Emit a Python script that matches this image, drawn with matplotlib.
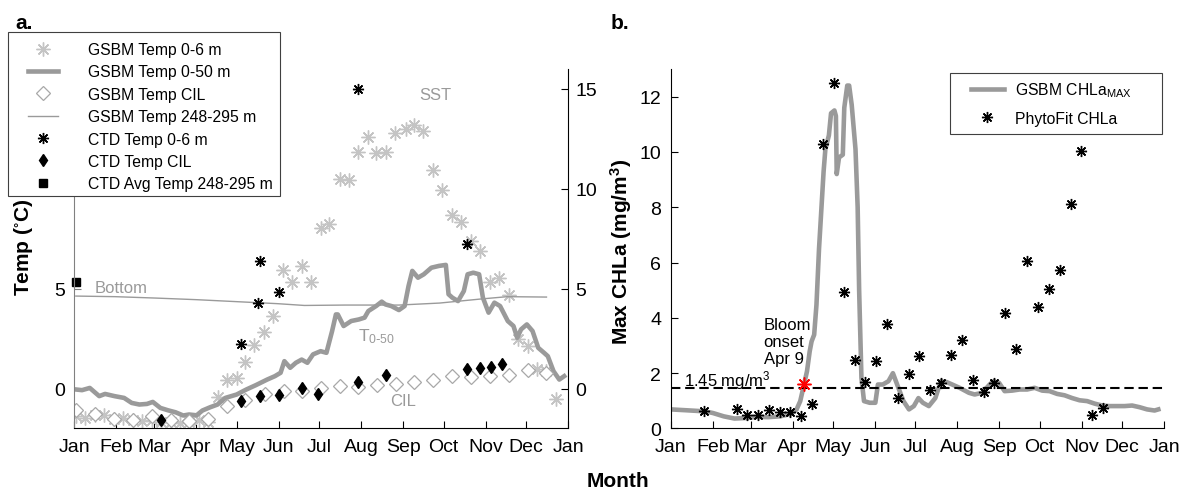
import matplotlib
matplotlib.use('Agg')
import matplotlib.pyplot as plt
from matplotlib.patches import Rectangle

plt.rcParams['font.family'] = ['Liberation Sans', 'DejaVu Sans']
plt.rcParams['mathtext.default'] = 'regular'

# month ticks (day of year)
month_days = [0, 31, 59, 90, 120, 151, 181, 212, 243, 273, 304, 334, 365]
month_labels = ['Jan', 'Feb', 'Mar', 'Apr', 'May', 'Jun', 'Jul', 'Aug',
                'Sep', 'Oct', 'Nov', 'Dec', 'Jan']

# ---- panel a: temperatures ----
sst_day = [1, 8, 15, 22, 29, 36, 43, 50, 57, 64, 71, 78, 85, 92, 99, 106, 113, 120,
           126, 133, 140, 147, 154, 161, 168, 175, 182, 188, 196, 203, 210, 217, 223,
           230, 237, 245, 251, 258, 265, 272, 279, 286, 293, 300, 307, 314, 321, 328,
           335, 342, 349, 356]
sst_temp = [-1.39, -1.47, -1.3, -1.34, -1.5, -1.47, -1.6, -1.64, -1.6, -1.67, -1.69,
            -1.72, -1.69, -1.6, -1.7, -0.43, 0.45, 0.54, 1.32, 2.16, 2.84, 3.63, 5.95,
            5.35, 6.14, 5.35, 8.06, 8.23, 10.5, 10.43, 11.86, 12.57, 11.78, 11.82, 12.77,
            12.99, 13.22, 12.9, 10.92, 9.93, 8.69, 8.35, 7.4, 6.88, 5.35, 5.55, 4.68,
            2.46, 2.12, 1.0, 0.9, -0.52]

t050_day = [1.4, 5.6, 11.3, 18.3, 22.6, 29.6, 36.7, 42.3, 48, 53.6, 57.9, 63.5, 69.2,
            74.8, 80.4, 84.7, 90.3, 94.6, 100.2, 105.8, 111.5, 119.9, 127, 134.1, 142.5,
            148.2, 152.4, 155.2, 159.5, 163.7, 168, 172.2, 176.4, 182, 186.3, 190.5,
            193.3, 194.7, 199, 204.6, 210.3, 214.5, 217.3, 223, 227.2, 230, 234.3, 239.9,
            244.1, 247, 249.8, 254, 258.3, 263.9, 269.5, 274.6, 276.6, 279.4, 283.6,
            287.9, 290.7, 294.9, 299.2, 302, 306.2, 310.5, 314.7, 320.4, 324.6, 327.4,
            330.2, 334.5, 338.7, 342.9, 347.2, 350, 354.2, 358.5, 362.1]
t050_temp = [-0.05, -0.08, 0.03, -0.38, -0.27, -0.38, -0.47, -0.72, -0.8, -0.77, -0.67,
             -0.97, -1.09, -1.19, -1.35, -1.3, -1.34, -1.1, -0.94, -0.8, -0.47, -0.3,
             -0.05, 0.17, 0.45, 0.62, 0.79, 1.37, 1.04, 1.29, 1.45, 1.29, 1.71, 1.87,
             1.79, 2.88, 3.71, 3.71, 3.13, 3.38, 3.46, 3.55, 3.88, 4.13, 4.35, 4.21, 4.13,
             3.93, 4.13, 5.13, 5.89, 5.55, 5.72, 6.05, 6.14, 6.19, 4.72, 4.55, 4.38, 4.88,
             5.72, 5.8, 5.72, 4.55, 3.8, 4.3, 4.13, 3.38, 3.13, 2.54, 2.96, 3.21, 2.88,
             2.04, 1.79, 1.62, 0.87, 0.45, 0.62]

cil_day = [1, 15, 29, 43, 57, 71, 85, 99, 113, 126, 141, 155, 168, 182, 196, 210, 224,
           238, 251, 265, 279, 293, 307, 321, 335, 349]
cil_temp = [-1.09, -1.25, -1.5, -1.59, -1.39, -1.59, -1.64, -1.5, -0.85, -0.55, -0.27,
            -0.13, -0.1, 0.03, 0.12, 0.07, 0.2, 0.23, 0.33, 0.45, 0.62, 0.58, 0.65, 0.7,
            0.92, 0.79]

bottom_day = [1, 30, 60, 90, 120, 150, 170, 200, 240, 270, 300, 320, 349]
bottom_temp = [4.63, 4.6, 4.53, 4.45, 4.35, 4.25, 4.16, 4.18, 4.18, 4.28, 4.48, 4.6, 4.58]

ctd_sst_day = [123, 137, 136, 151, 210, 290]
ctd_sst_temp = [2.24, 6.39, 4.3, 4.83, 15.0, 7.22]

ctd_cil_day = [64, 123, 137, 151, 168, 180, 210, 230, 290, 300, 308, 316]
ctd_cil_temp = [-1.6, -0.64, -0.38, -0.3, 0.03, -0.25, 0.33, 0.7, 1.0, 1.04, 1.09, 1.24]

ctd_bot_day = [1.4]
ctd_bot_temp = [5.33]

# ---- panel b: chlorophyll ----
chl_day = [0, 11, 25, 31, 39, 47, 56, 64, 72, 81, 89, 93, 95.7, 98.5, 100.7, 102.7,
           104.1, 106, 107.7, 109.6, 113.0, 114.3, 116.9, 118.5, 121.0, 122.1, 122.7,
           124.4, 127.2, 128.3, 130.5, 131.9, 133.8, 136.6, 138.2, 139.3, 141.0, 142.9,
           147.1, 151.3, 153.2, 156.8, 161.0, 164.3, 167.9, 172.1, 176.2, 179.8, 183.2,
           186.5, 190.9, 195.7, 199.8, 204.0, 208.2, 213.7, 220.6, 224.8, 230.4, 235.9,
           238.7, 242.9, 247.0, 252.6, 258.1, 263.7, 269.2, 274.8, 280.3, 285.9, 291.4,
           297.0, 302.5, 308.1, 313.6, 319.2, 324.7, 330.3, 335.8, 341.4, 346.9, 352.5,
           358.0, 360.8]
chl_val = [0.69, 0.66, 0.62, 0.56, 0.44, 0.36, 0.38, 0.42, 0.41, 0.44, 0.53, 0.69, 0.99,
           1.59, 2.07, 2.79, 3.15, 3.39, 4.47, 6.5, 9.3, 10.1, 10.6, 11.4, 11.5, 11.3, 9.2,
           9.8, 9.9, 11.6, 12.4, 12.4, 11.7, 10.1, 8.0, 5.0, 1.83, 0.99, 0.93, 0.93, 1.59,
           1.59, 1.71, 2.0, 1.53, 0.99, 0.69, 0.81, 1.1, 0.93, 0.81, 1.1, 1.71, 1.68, 1.59,
           1.47, 1.29, 1.23, 1.29, 1.59, 1.71, 1.65, 1.35, 1.37, 1.41, 1.41, 1.47, 1.37,
           1.35, 1.25, 1.2, 1.1, 1.02, 0.99, 0.9, 0.83, 0.81, 0.81, 0.81, 0.83, 0.77, 0.69,
           0.65, 0.69]

phyto_day = [24.4, 48.6, 56.3, 64.4, 72.2, 80.5, 88.3, 96.3, 104.1, 112.4, 120.5, 128.2,
             136.0, 144.0, 152.1, 160.1, 167.9, 176.2, 183.7, 191.5, 199.8, 207.6, 215.7,
             223.7, 231.7, 239.5, 247.6, 255.3, 263.7, 271.4, 279.5, 287.8, 296.1, 303.6,
             311.7, 319.5]
phyto_chl = [0.62, 0.69, 0.47, 0.5, 0.66, 0.6, 0.6, 0.44, 0.87, 10.29, 12.5, 4.93, 2.49,
             1.68, 2.45, 3.77, 1.11, 1.97, 2.63, 1.38, 1.65, 2.64, 3.19, 1.74, 1.32, 1.65,
             4.18, 2.87, 6.06, 4.39, 5.05, 5.73, 8.1, 10.05, 0.5, 0.75]

threshold = 1.45
onset_day = [98.5]
onset_chl = [1.61]

light = '#c4c4c4'
mid = '#9a9a9a'
ast = (8, 2, 0)   # asterisk marker, like matlab '*'

fig = plt.figure(figsize=(11.88, 4.89), dpi=100)
ax1 = fig.add_axes([0.0627, 0.1217, 0.4155, 0.7352])
ax1r = ax1.twinx()
ax2 = fig.add_axes([0.5648, 0.1217, 0.415, 0.7352])

# panel a
h1, = ax1.plot(sst_day, sst_temp, ls='none', marker=ast, ms=10, mec=light, mew=1.0)
h2, = ax1.plot(t050_day, t050_temp, color=mid, lw=3.3, solid_joinstyle='round')
h3, = ax1.plot(cil_day, cil_temp, ls='none', marker='D', ms=7.5, mfc='white', mec='#a8a8a8', mew=0.9)
h4, = ax1.plot(bottom_day, bottom_temp, color=mid, lw=1)
h5, = ax1.plot(ctd_sst_day, ctd_sst_temp, ls='none', marker=ast, ms=8, mec='black', mew=1.0)
h6, = ax1.plot(ctd_cil_day, ctd_cil_temp, ls='none', marker='d', ms=6.5, color='black')
h7, = ax1.plot(ctd_bot_day, ctd_bot_temp, ls='none', marker='s', ms=6, color='black', clip_on=False)

ax1.text(267, 14.7, 'SST', color=mid, fontsize=12, ha='center', va='center')
ax1.text(15, 5.05, 'Bottom', color=mid, fontsize=12, ha='left', va='center')
ax1.text(210, 2.65, r'T$_{0\text{-}50}$', color=mid, fontsize=12.5, ha='left', va='center')
ax1.text(243, -0.6, 'CIL', color=mid, fontsize=12, ha='center', va='center')

for a in (ax1, ax1r):
    a.set_xlim(0, 365)
    a.set_ylim(-2, 16)
    a.set_yticks([0, 5, 10, 15])
    a.spines['top'].set_visible(False)
ax1.spines['right'].set_visible(False)
ax1r.spines['left'].set_visible(False)
ax1r.spines['bottom'].set_visible(False)
ax1.spines['left'].set_color('#808080')
ax1.set_xticks(month_days)
ax1.set_xticklabels(month_labels)
ax1.tick_params(direction='in', length=5, labelsize=14, pad=7)
ax1.tick_params(axis='y', colors='#808080', labelcolor='black')
ax1r.tick_params(direction='in', length=5, labelsize=14, pad=5)

# legend a: frame drawn separately so the padding matches
fig.patches.append(Rectangle((0.0067, 0.5971), 0.229, 0.3354, transform=fig.transFigure,
                             facecolor='white', edgecolor='#404040', lw=0.8, zorder=4))
fig.legend([h1, h2, h3, h4, h5, h6, h7],
           ['GSBM Temp 0-6 m', 'GSBM Temp 0-50 m', 'GSBM Temp CIL', 'GSBM Temp 248-295 m',
            'CTD Temp 0-6 m', 'CTD Temp CIL', 'CTD Avg Temp 248-295 m'],
           loc='upper left', bbox_to_anchor=(0.0236, 0.912), fontsize=11.3,
           frameon=False, borderaxespad=0, borderpad=0, labelspacing=0.47,
           handlelength=1.9, handletextpad=1.9)

# panel b
g1, = ax2.plot(chl_day, chl_val, color=mid, lw=3.3, solid_joinstyle='round')
g2, = ax2.plot(phyto_day, phyto_chl, ls='none', marker=ast, ms=8, mec='black', mew=1.0)
ax2.axhline(threshold, color='black', lw=1.5, ls=(0, (4.5, 2.3)))
ax2.plot(onset_day, onset_chl, ls='none', marker=ast, ms=10, mec='red', mew=1.1)
ax2.text(9.7, 1.56, r'1.45 mg/m$^3$', fontsize=12, ha='left', va='baseline')
ax2.text(68.6, 3.14, 'Bloom\nonset\nApr 9', fontsize=12, ha='left', va='center', linespacing=1.15)

ax2.set_xlim(0, 365)
ax2.set_ylim(0, 13)
ax2.set_yticks(range(0, 13, 2))
ax2.set_xticks(month_days)
ax2.set_xticklabels(month_labels)
ax2.spines['top'].set_visible(False)
ax2.spines['right'].set_visible(False)
ax2.tick_params(direction='in', length=5, labelsize=14, pad=7)

# legend b
fig.patches.append(Rectangle((0.7997, 0.7239), 0.1785, 0.1247, transform=fig.transFigure,
                             facecolor='white', edgecolor='#404040', lw=0.8, zorder=4))
fig.legend([g1, g2], [r'GSBM CHLa$_{MAX}$', 'PhytoFit CHLa'],
           loc='upper left', bbox_to_anchor=(0.8173, 0.834), fontsize=11.3,
           frameon=False, borderaxespad=0, borderpad=0, labelspacing=0.75,
           handlelength=2.1, handletextpad=0.7)

# labels
fig.text(0.0202, 0.494, r'Temp ($^{\circ}$C)', rotation=90, fontsize=15,
         fontweight='bold', ha='center', va='center')
fig.text(0.5227, 0.485, r'Max CHLa (mg/m$^3$)', rotation=90, fontsize=15,
         fontweight='bold', ha='center', va='center')
fig.text(0.52, 0.016, 'Month', fontsize=15, fontweight='bold', ha='center', va='center')
fig.text(0.0126, 0.951, 'a.', fontsize=15, fontweight='bold', ha='left', va='center')
fig.text(0.514, 0.951, 'b.', fontsize=15, fontweight='bold', ha='left', va='center')

fig.savefig('out.png', dpi=100)
